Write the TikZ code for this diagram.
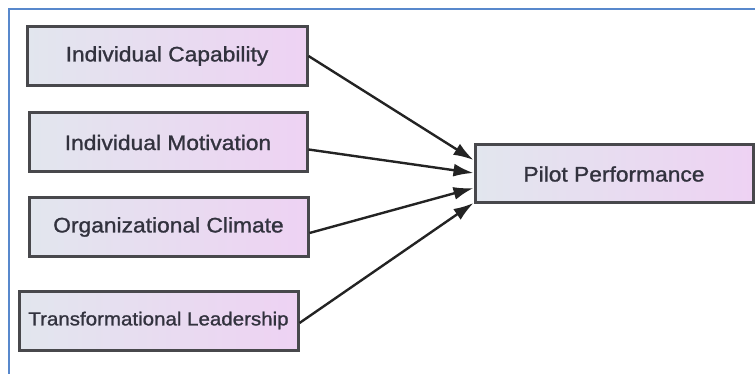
\documentclass[tikz,border=0pt]{standalone}
\usepackage{fontspec}
\newfontfamily\labfont[FakeStretch=1.085,FakeBold=1.2]{Liberation Sans}
\usetikzlibrary{arrows.meta}
\definecolor{frameblue}{RGB}{88,136,204}
\definecolor{boxleft}{RGB}{226,230,238}
\definecolor{boxright}{RGB}{238,210,243}
\definecolor{boxedge}{RGB}{72,72,76}
\definecolor{txt}{RGB}{50,50,62}
\definecolor{arr}{RGB}{35,35,35}
\tikzset{
  factor/.style={draw=boxedge, line width=3pt, left color=boxleft, right color=boxright,
    minimum height=59pt, inner sep=0pt, font=\labfont\fontsize{21}{24}\selectfont, text=txt},
  smalltext/.style={font=\labfont\fontsize{18.9}{22}\selectfont},
  link/.style={draw=arr, line width=2.4pt, -{Latex[length=20pt,width=13pt]}},
  frameline/.style={draw=frameblue, line width=2.4pt}
}
\begin{document}
\begin{tikzpicture}[x=1pt,y=-1pt]
\useasboundingbox (0,0) rectangle (755,374);
\coordinate (ftl) at (9,9);
\coordinate (ftr) at (755,9);
\coordinate (fbl) at (9,374);
\draw[frameline] (ftr) -- (ftl) -- (fbl);
\node[factor, minimum width=280pt] (b1) at (167,56) {Individual Capability};
\node[factor, minimum width=278pt] (b2) at (168,142.5) {Individual Motivation};
\node[factor, minimum width=279pt] (b3) at (168.5,227) {Organizational Climate};
\node[factor, smalltext, minimum width=279pt] (b4) at (158.5,320.5) {Transformational Leadership};
\node[factor, minimum width=278pt, minimum height=58pt] (pp) at (614,174) {Pilot Performance};
\draw[link] (b1.east) -- ([yshift=14pt]pp.west);
\draw[link] ([yshift=-7pt]b2.east) -- ([yshift=1pt]pp.west);
\draw[link] ([yshift=-6pt]b3.east) -- ([yshift=-14pt]pp.west);
\draw[link] ([yshift=-2.5pt]b4.east) -- ([yshift=-29pt]pp.west);
\end{tikzpicture}
\end{document}
